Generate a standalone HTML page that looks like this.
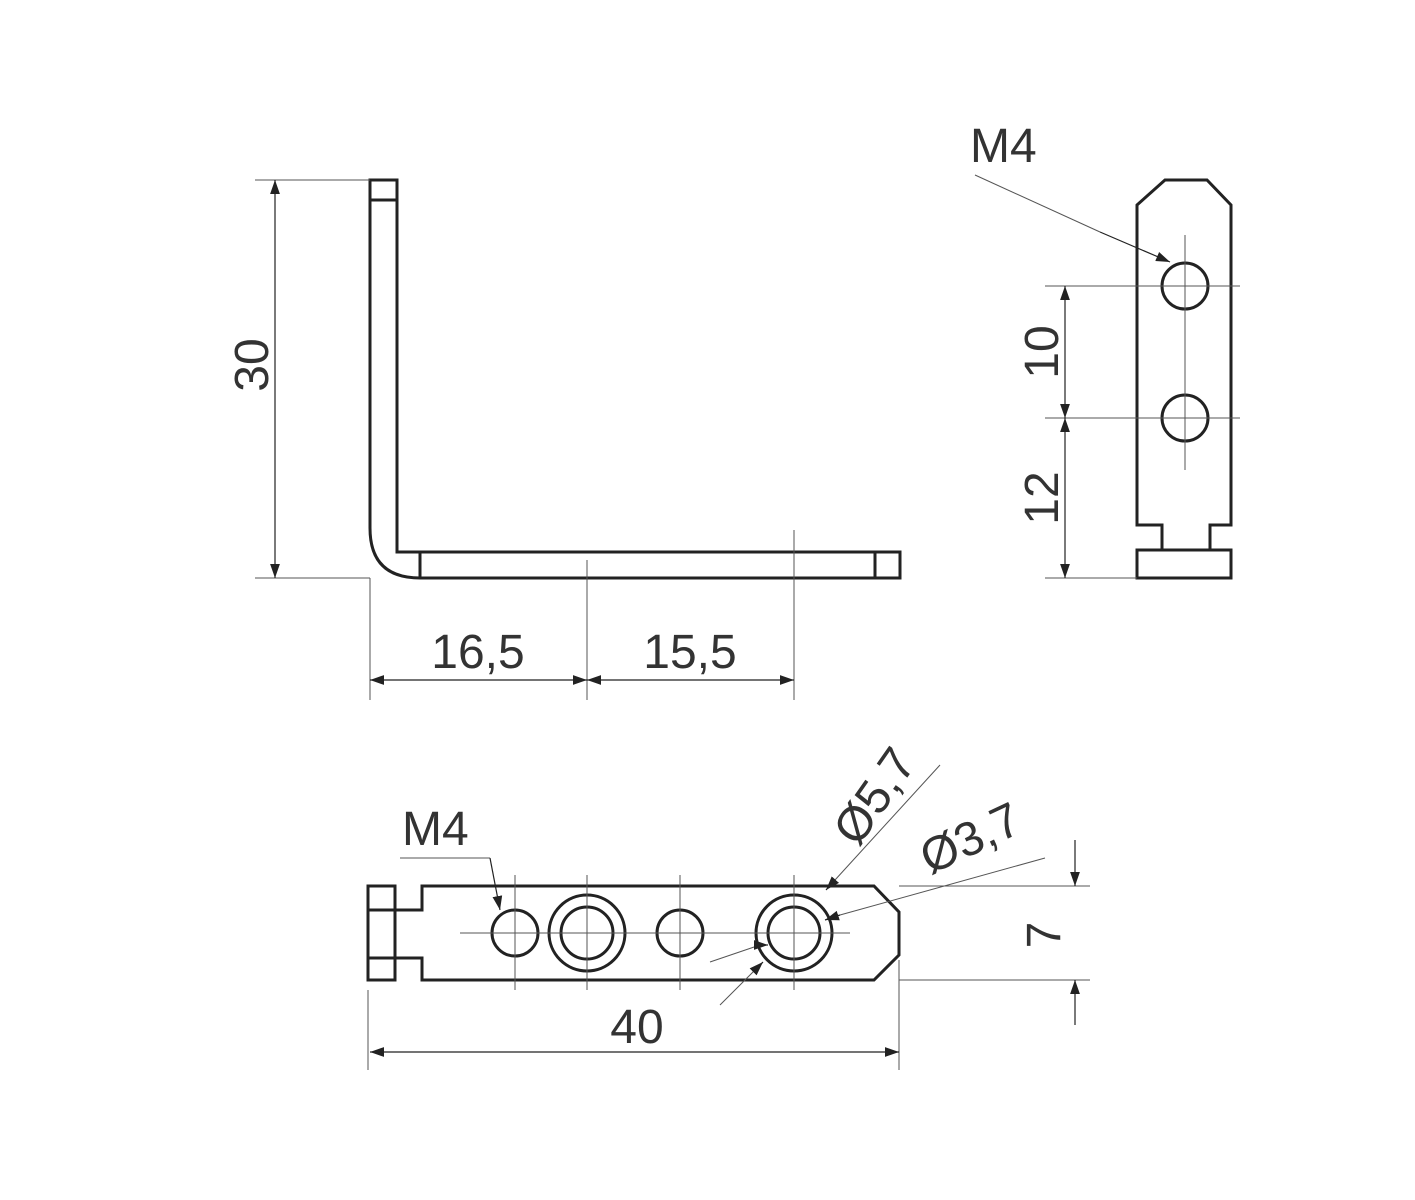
<!DOCTYPE html>
<html><head><style>body{margin:0;background:#fff}svg{display:block}</style></head><body>
<svg width="1415" height="1200" viewBox="0 0 1415 1200" xmlns="http://www.w3.org/2000/svg" font-family="Liberation Sans, sans-serif">
<defs><marker id="a" viewBox="0 0 10 10" refX="10" refY="5" markerWidth="14" markerHeight="14" markerUnits="userSpaceOnUse" orient="auto-start-reverse"><path d="M0,1.5L10,5L0,8.5z" fill="#222"/></marker></defs>
<rect width="1415" height="1200" fill="#fff"/>
<g fill="none" stroke="#222" stroke-width="3">
<path d="M370,180H397V552H900V578H420Q370,578 370,528Z"/>
<path d="M370,200H397M420,552V578M875,552V578"/>
<path d="M1137,205L1165,180H1207L1231,205V525H1210V550H1162V525H1137Z"/>
<rect x="1137" y="550" width="94" height="28"/>
<circle cx="1185" cy="286" r="23"/><circle cx="1185" cy="418" r="23"/>
<rect x="368" y="886" width="27" height="94"/>
<path d="M368,910H395M368,958H395"/>
<path d="M422,886H874L899,912V955L874,980H422V958H395V910H422Z"/>
<circle cx="515" cy="933" r="23"/>
<circle cx="587" cy="933" r="38"/><circle cx="587" cy="933" r="26"/>
<circle cx="680" cy="933" r="23"/>
<circle cx="794" cy="933" r="38"/><circle cx="794" cy="933" r="26"/>
</g>
<g fill="none" stroke="#555" stroke-width="1">
<path d="M255,180H370M255,578H370M370,578V700M587,560V700M794,530V700"/>
<path d="M1045,286H1240M1045,418H1240M1045,578H1137M1185,235V470"/>
<path d="M460,933H850M515,875V990M587,875V990M680,875V990M794,875V990"/>
<path d="M899,886H1090M899,980H1090M368,990V1070M899,960V1070"/>
<path d="M710,962L760,945M720,1005L755,970M835,880L940,765M840,915L1045,858M400,858H490M975,175L1100,232"/>
</g>
<g stroke="#222" stroke-width="1.2" fill="none" marker-end="url(#a)" marker-start="url(#a)">
<path d="M275,180V578"/><path d="M1065,286V418"/><path d="M1065,418V578"/>
<path d="M370,680H587"/><path d="M587,680H794"/><path d="M370,1052H899"/>
</g>
<g stroke="#222" stroke-width="1.2" fill="none" marker-end="url(#a)">
<path d="M1100,232L1170,262"/><path d="M490,858L500,910"/>
<path d="M1075,840V886"/><path d="M1075,1025V980"/>
<path d="M760,945L768,945"/><path d="M755,970L763,962"/><path d="M835,880L826,890"/><path d="M840,915L825,920"/>
</g>
<g fill="#333" font-size="48">
<text x="970" y="162">M4</text>
<text x="402" y="845">M4</text>
<text x="478" y="668" text-anchor="middle">16,5</text>
<text x="690" y="668" text-anchor="middle">15,5</text>
<text x="637" y="1043" text-anchor="middle">40</text>
<text transform="translate(268,365) rotate(-90)" text-anchor="middle">30</text>
<text transform="translate(1058,352) rotate(-90)" text-anchor="middle">10</text>
<text transform="translate(1058,498) rotate(-90)" text-anchor="middle">12</text>
<text transform="translate(1060,935) rotate(-90)" text-anchor="middle">7</text>
<text transform="translate(858,848) rotate(-55)">Ø5,7</text>
<text transform="translate(930,875) rotate(-25)">Ø3,7</text>
</g>
</svg>
</body></html>
